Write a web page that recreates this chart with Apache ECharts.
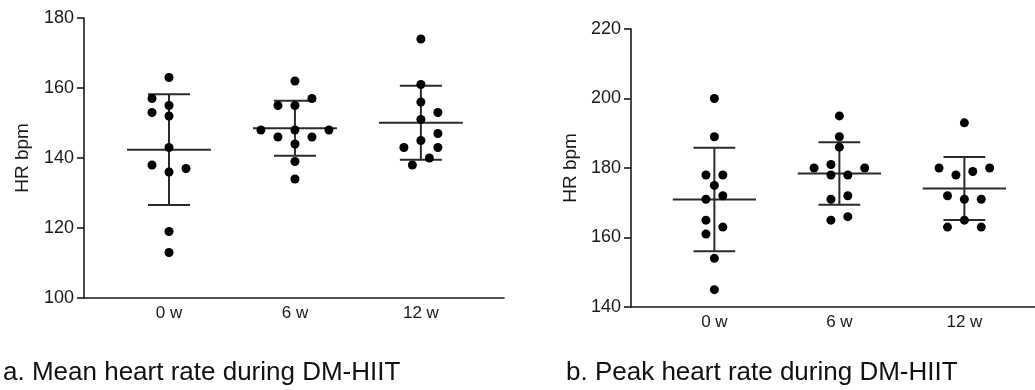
<!DOCTYPE html>
<html>
<head>
<meta charset="utf-8">
<script src="https://cdn.jsdelivr.net/npm/echarts@6/dist/echarts.min.js"></script>
<style>
  html, body { margin: 0; padding: 0; background: #fff; }
  #chart { width: 1035px; height: 390px; }
</style>
</head>
<body>
<div id="chart"></div>
<script>
// Time points of the training programme
const categories = ['0 w', '6 w', '12 w'];

// Panel a: mean heart rate (bpm) per participant, with swarm column offsets
const meanHR0w  = [163, 157, 155, 153, 152, 143, 138, 137, 136, 119, 113];
const meanCol0w = [0, -1, 0, -1, 0, 0, -1, 1, 0, 0, 0];
const meanHR6w  = [162, 157, 155, 155, 148, 148, 148, 146, 146, 144, 139, 134];
const meanCol6w = [0, 1, -1, 0, -2, 0, 2, -1, 1, 0, 0, 0];
const meanHR12w  = [174, 161, 156, 153, 151, 147, 145, 143, 143, 140, 138];
const meanCol12w = [0, 0, 0, 1, 0, 1, 0, -1, 1, 0.5, -0.5];

// Panel b: peak heart rate (bpm) per participant, with swarm column offsets
const peakHR0w  = [200, 189, 178, 178, 175, 172, 171, 165, 163, 161, 154, 145];
const peakCol0w = [0, 0, -0.5, 0.5, 0, 0.5, -0.5, -0.5, 0.5, -0.5, 0, 0];
const peakHR6w  = [195, 189, 186, 181, 180, 180, 178, 178, 172, 171, 166, 165];
const peakCol6w = [0, 0, 0, -0.5, -1.5, 1.5, -0.5, 0.5, 0.5, -0.5, 0.5, -0.5];
const peakHR12w  = [193, 180, 180, 178, 179, 172, 171, 171, 165, 163, 163];
const peakCol12w = [0, -1.5, 1.5, -0.5, 0.5, -1, 0, 1, 0, -1, 1];

// Y axis ticks
const meanTicks = [100, 120, 140, 160, 180];
const peakTicks = [140, 160, 180, 200, 220];

const captions = ['a. Mean heart rate during DM-HIIT', 'b. Peak heart rate during DM-HIIT'];
const yName = 'HR bpm';

const FONT = '"Liberation Sans", Arial, Helvetica, sans-serif';
const INK = '#1a1a1a';
const COL_STEP = 0.135;      // horizontal spacing of swarm columns (x units)
const MEAN_HALF = 0.333;     // half width of the mean line (x units)
const CAP_HALF = 0.167;      // half width of the SD caps (x units)

function mean(a) { return a.reduce((s, v) => s + v, 0) / a.length; }
function sd(a) {
  const m = mean(a);
  return Math.sqrt(a.reduce((s, v) => s + (v - m) * (v - m), 0) / (a.length - 1));
}

function swarm(groups) {
  const pts = [];
  groups.forEach((g, i) => {
    g.values.forEach((v, k) => pts.push([i + g.cols[k] * COL_STEP, v]));
  });
  return pts;
}
function summary(groups) {
  return groups.map((g, i) => [i, mean(g.values), sd(g.values)]);
}

const meanGroups = [
  { values: meanHR0w, cols: meanCol0w },
  { values: meanHR6w, cols: meanCol6w },
  { values: meanHR12w, cols: meanCol12w }
];
const peakGroups = [
  { values: peakHR0w, cols: peakCol0w },
  { values: peakHR6w, cols: peakCol6w },
  { values: peakHR12w, cols: peakCol12w }
];

// Mean line with ±SD whiskers and caps
function renderBars(params, api) {
  const i = api.value(0), m = api.value(1), s = api.value(2);
  const pm = api.coord([i, m]);
  const pt = api.coord([i, m + s]);
  const pb = api.coord([i, m - s]);
  const unit = api.size([1, 0])[0];
  const hw = unit * MEAN_HALF, cw = unit * CAP_HALF;
  const style = { stroke: '#2b2b2b', lineWidth: 2, fill: null };
  return {
    type: 'group',
    children: [
      { type: 'line', shape: { x1: pt[0], y1: pt[1], x2: pb[0], y2: pb[1] }, style },
      { type: 'line', shape: { x1: pm[0] - hw, y1: pm[1], x2: pm[0] + hw, y2: pm[1] }, style },
      { type: 'line', shape: { x1: pt[0] - cw, y1: pt[1], x2: pt[0] + cw, y2: pt[1] }, style },
      { type: 'line', shape: { x1: pb[0] - cw, y1: pb[1], x2: pb[0] + cw, y2: pb[1] }, style }
    ]
  };
}

function xAxis(gridIndex, min, max) {
  return {
    type: 'value', gridIndex, min, max,
    axisLine: { show: true, onZero: false, lineStyle: { color: INK, width: 1.6 } },
    axisTick: { show: false },
    splitLine: { show: false },
    axisLabel: {
      customValues: [0, 1, 2],
      formatter: v => categories[Math.round(v)],
      color: INK, fontFamily: FONT, fontSize: 17, margin: 7
    }
  };
}
function yAxis(gridIndex, ticks, gap) {
  return {
    type: 'value', gridIndex,
    min: ticks[0], max: ticks[ticks.length - 1], interval: ticks[1] - ticks[0],
    name: yName, nameLocation: 'middle', nameRotate: 90, nameGap: gap,
    nameTextStyle: { color: INK, fontFamily: FONT, fontSize: 19 },
    axisLine: { show: true, onZero: false, lineStyle: { color: INK, width: 1.6 } },
    axisTick: { show: true, length: 7, lineStyle: { color: INK, width: 1.6 } },
    splitLine: { show: false },
    axisLabel: { color: INK, fontFamily: FONT, fontSize: 18, margin: 10 }
  };
}

const chart = echarts.init(document.getElementById('chart'), null, { renderer: 'canvas' });
chart.setOption({
  animation: false,
  backgroundColor: '#fff',
  title: [
    { text: captions[0], left: -2, top: 355, textStyle: { color: '#111', fontFamily: FONT, fontSize: 26, fontWeight: 'normal' } },
    { text: captions[1], left: 561, top: 355, textStyle: { color: '#111', fontFamily: FONT, fontSize: 26, fontWeight: 'normal' } }
  ],
  grid: [
    { left: 84, top: 18, width: 420, height: 280 },
    { left: 631, top: 29, width: 404, height: 278 }
  ],
  xAxis: [xAxis(0, -0.675, 2.66), xAxis(1, -0.667, 2.565)],
  yAxis: [yAxis(0, meanTicks, 52), yAxis(1, peakTicks, 51)],
  series: [
    { type: 'custom', xAxisIndex: 0, yAxisIndex: 0, z: 1, renderItem: renderBars, data: summary(meanGroups) },
    { type: 'custom', xAxisIndex: 1, yAxisIndex: 1, z: 1, renderItem: renderBars, data: summary(peakGroups) },
    { type: 'scatter', xAxisIndex: 0, yAxisIndex: 0, z: 2, symbolSize: 9, itemStyle: { color: '#000', opacity: 1 }, data: swarm(meanGroups) },
    { type: 'scatter', xAxisIndex: 1, yAxisIndex: 1, z: 2, symbolSize: 9, itemStyle: { color: '#000', opacity: 1 }, data: swarm(peakGroups) }
  ]
});
</script>
</body>
</html>
